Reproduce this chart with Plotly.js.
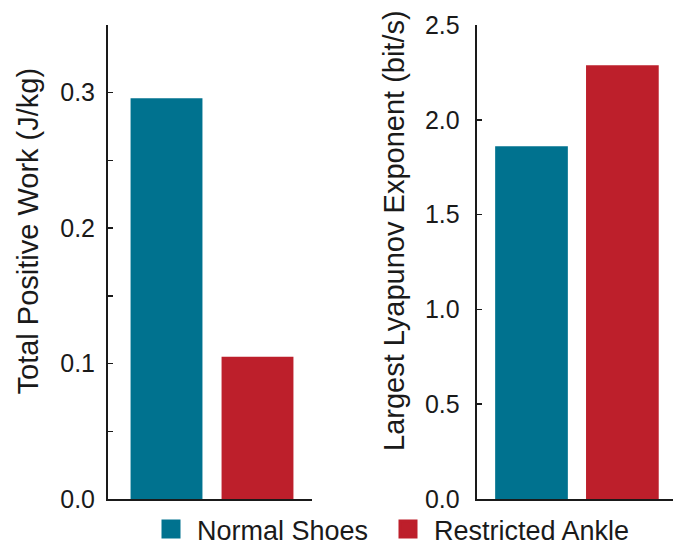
<!DOCTYPE html>
<html>
<head>
<meta charset="utf-8">
<script src="https://cdn.plot.ly/plotly-3.0.1.min.js"></script>
<style>html,body{margin:0;padding:0;background:#fff;}#chart{width:673px;height:546px;}</style>
</head>
<body>
<div id="chart"></div>
<script>
// ---- data ----
var conditions = ["Normal Shoes", "Restricted Ankle"];
var positiveWork = [0.296, 0.105];      // J/kg
var lyapunov = [1.861, 2.288];          // bit/s
var workTickVals = [0, 0.05, 0.1, 0.15, 0.2, 0.25, 0.3, 0.35];
var workTickText = ["0.0", "", "0.1", "", "0.2", "", "0.3", ""];
var lyapTickVals = [0, 0.5, 1.0, 1.5, 2.0, 2.5];
var lyapTickText = ["0.0", "0.5", "1.0", "1.5", "2.0", "2.5"];
var workTitle = "Total Positive Work (J/kg)";
var lyapTitle = "Largest Lyapunov Exponent (bit/s)";

var colors = ["#00728F", "#BD1F2B"];
var legendIds = ["legend", "legend2"];
var FONT = "Liberation Sans, Arial, Helvetica, sans-serif";

var traces = [];
// legend entries (square swatches)
conditions.forEach(function (c, i) {
  traces.push({
    type: "scatter", mode: "markers", x: [null], y: [null], name: c,
    marker: {symbol: "square", color: colors[i], size: 16, line: {color: colors[i], width: 3}},
    xaxis: "x", yaxis: "y", legend: legendIds[i], legendgroup: c, showlegend: true, hoverinfo: "skip"
  });
});
conditions.forEach(function (c, i) {
  traces.push({
    type: "bar", x: [c], y: [positiveWork[i]], name: c,
    marker: {color: colors[i], line: {width: 0}}, width: 0.79,
    xaxis: "x", yaxis: "y", legendgroup: c, showlegend: false, hoverinfo: "y"
  });
});
conditions.forEach(function (c, i) {
  traces.push({
    type: "bar", x: [c], y: [lyapunov[i]], name: c,
    marker: {color: colors[i], line: {width: 0}}, width: 0.80,
    xaxis: "x2", yaxis: "y2", legendgroup: c, showlegend: false, hoverinfo: "y"
  });
});

var axisLine = {showline: true, linecolor: "#1a1a1a", linewidth: 2, showgrid: false, zeroline: false};
function legendAt(px) {
  return {
    orientation: "h", x: px/673, xanchor: "left", y: -8/546, yanchor: "bottom",
    itemwidth: 42, bgcolor: "rgba(0,0,0,0)",
    font: {size: 27, family: FONT, color: "#1a1a1a"}, itemclick: false
  };
}

var layout = {
  width: 673, height: 546,
  margin: {l: 0, r: 0, t: 0, b: 0, autoexpand: false},
  paper_bgcolor: "#fff", plot_bgcolor: "#fff",
  font: {family: FONT, color: "#1a1a1a"},
  barmode: "overlay",
  showlegend: true,
  legend: legendAt(145),
  legend2: legendAt(382),
  xaxis: Object.assign({}, axisLine, {
    domain: [108/673, 312/673], type: "category", range: [-0.643, 1.599],
    showticklabels: false, ticks: "", anchor: "y"
  }),
  yaxis: Object.assign({}, axisLine, {
    domain: [1 - 499/546, 1 - 25/546], range: [0, 0.35],
    tickmode: "array", tickvals: workTickVals, ticktext: workTickText,
    ticks: "inside", ticklen: 5, tickwidth: 1.5, tickcolor: "#1a1a1a",
    ticklabelstandoff: 6,
    tickfont: {size: 25, family: FONT, color: "#1a1a1a"}, anchor: "x"
  }),
  xaxis2: Object.assign({}, axisLine, {
    domain: [476.7/673, 1], type: "category", range: [-0.603, 1.557],
    showticklabels: false, ticks: "", anchor: "y2"
  }),
  yaxis2: Object.assign({}, axisLine, {
    domain: [1 - 499/546, 1 - 25/546], range: [0, 2.5],
    tickmode: "array", tickvals: lyapTickVals, ticktext: lyapTickText,
    ticks: "inside", ticklen: 5, tickwidth: 1.5, tickcolor: "#1a1a1a",
    ticklabelstandoff: 10,
    tickfont: {size: 25, family: FONT, color: "#1a1a1a"}, anchor: "x2"
  }),
  annotations: [
    {text: workTitle, xref: "paper", yref: "paper", x: 27.5/673, y: 1 - 231/546,
     xanchor: "center", yanchor: "middle", textangle: -90, showarrow: false,
     font: {size: 29, family: FONT, color: "#1a1a1a"}},
    {text: lyapTitle, xref: "paper", yref: "paper", x: 394/673, y: 1 - 231/546,
     xanchor: "center", yanchor: "middle", textangle: -90, showarrow: false,
     font: {size: 29, family: FONT, color: "#1a1a1a"}}
  ]
};

Plotly.newPlot("chart", traces, layout, {staticPlot: true, displayModeBar: false});
</script>
</body>
</html>
